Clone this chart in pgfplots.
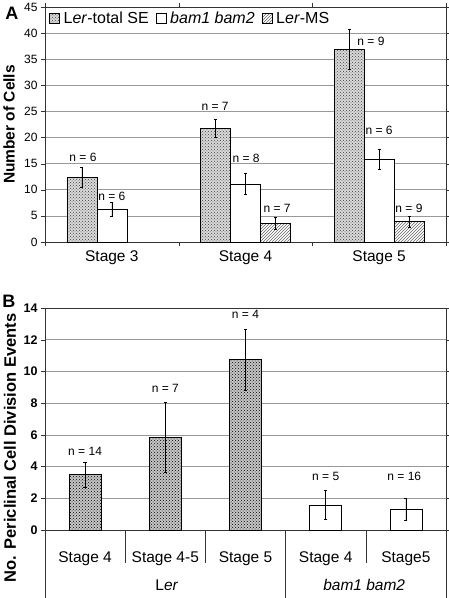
\documentclass[border=0pt]{standalone}
\usepackage{fontspec}
\setmainfont{Liberation Sans}
\usepackage{pgfplots}
\pgfplotsset{compat=1.18}
\usetikzlibrary{patterns}
\newcommand{\fs}[1]{\fontsize{#1}{#1}\selectfont}
\begin{document}
\begin{tikzpicture}
\pgfplotsset{
  common/.style={
    scale only axis,
    clip=false,
    axis line style={black!80},
    ymajorgrids,
    grid style={gray!80, line width=0.6pt},
    tick style={black!80},
    /pgf/number format/assume math mode=true,
    error bars/error bar style={black, line width=0.5pt},
    error bars/error mark options={rotate=90, mark size=1.6pt, black, line width=0.5pt},
  },
  SEstyle/.style={draw=black, line width=0.5pt, fill=gray!30, postaction={pattern=crosshatch dots, pattern color=gray!50!black}},
  BAMstyle/.style={draw=black, line width=0.5pt, fill=white},
  MSstyle/.style={draw=black, line width=0.5pt, fill=white, postaction={pattern=north east lines, pattern color=gray!80!black}},
  LERBstyle/.style={draw=black, line width=0.5pt, fill=gray!45, postaction={pattern=crosshatch dots, pattern color=black}},
}
% ---------------- Panel A ----------------
\begin{axis}[
  common,
  at={(0pt,288pt)}, anchor=south west,
  width=401pt, height=235pt,
  xmin=-0.5, xmax=2.5, ymin=0, ymax=45,
  ytick={0,5,...,45},
  yticklabel style={font=\fs{12}},
  ytick align=outside, major tick length=4pt,
  xtick={-0.5,0.5,1.5,2.5}, xticklabels={},
  xtick align=outside,
  extra x ticks={0,1,2},
  extra x tick labels={Stage 3,Stage 4,Stage 5},
  extra x tick style={major tick length=0pt, grid=none, xticklabel style={font=\fs{15.5}, yshift=-5pt}},
  ylabel={\bfseries Number of Cells},
  ylabel style={font=\fs{15.5}, at={([xshift=-36pt]rel axis cs:0,0.5)}, anchor=center},
  ybar=0pt, bar width=30pt,
  legend style={at={(rel axis cs:0,1)}, anchor=north west, draw=none, fill=none,
    font=\fs{16}, legend columns=-1, yshift=-1pt, xshift=1pt,
    /tikz/every odd column/.append style={column sep=2pt},
    /tikz/every even column/.append style={column sep=5pt}},
  legend image code/.code={\draw[#1] (0pt,-5pt) rectangle (10pt,5pt);},
]
\addplot[SEstyle, error bars/.cd, y dir=both, y explicit] coordinates {
  (0,12.4) +- (0,1.9)
  (1,21.8) +- (0,1.8)
  (2,36.9) +- (0,3.8)
};
\addplot[BAMstyle, error bars/.cd, y dir=both, y explicit] coordinates {
  (0,6.3) +- (0,1.4)
  (1,11.1) +- (0,2.0)
  (2,15.8) +- (0,1.9)
};
\addplot[MSstyle, error bars/.cd, y dir=both, y explicit] coordinates {
  (1,3.6) +- (0,1.2)
  (2,3.9) +- (0,1.0)
};
\legend{L\textit{er}-total SE, \textit{bam1 bam2}, L\textit{er}-MS}
\begin{scope}[every node/.style={font=\fs{12}}]
\node at (axis cs:-0.216,16.3) {n = 6};
\node at (axis cs:0.0,8.8) {n = 6};
\node at (axis cs:0.772,26.0) {n = 7};
\node at (axis cs:1.004,16.1) {n = 8};
\node at (axis cs:1.236,6.5) {n = 7};
\node at (axis cs:1.939,38.5) {n = 9};
\node at (axis cs:1.999,21.3) {n = 6};
\node at (axis cs:2.223,6.5) {n = 9};
\end{scope}
\node[font=\fs{18}\bfseries] at ([xshift=-33pt, yshift=-6.5pt]rel axis cs:0,1) {A};
\end{axis}
% ---------------- Panel B ----------------
\begin{axis}[
  common,
  at={(0pt,0pt)}, anchor=south west,
  width=401pt, height=222pt,
  xmin=-0.5, xmax=4.5, ymin=0, ymax=14,
  ytick={0,2,...,14},
  yticklabel style={font=\fs{12.5}\bfseries},
  ytick align=outside, major tick length=4pt,
  xtick={0,1,2,3,4},
  xticklabels={Stage 4,Stage 4-5,Stage 5,Stage 4,Stage5},
  x tick style={draw=none},
  xticklabel style={font=\fs{15.5}, yshift=-14.5pt},
  ylabel={\bfseries No. Periclinal Cell Division Events},
  ylabel style={font=\fs{16.5}, at={([xshift=-35pt]rel axis cs:0,0.37)}, anchor=center},
  ybar, bar width=32pt, bar shift=0pt,
]
\addplot[LERBstyle, error bars/.cd, y dir=both, y explicit] coordinates {
  (0,3.5) +- (0,0.78)
  (1,5.86) +- (0,2.2)
  (2,10.74) +- (0,1.92)
};
\addplot[BAMstyle, error bars/.cd, y dir=both, y explicit] coordinates {
  (3,1.58) +- (0,0.9)
  (4,1.31) +- (0,0.7)
};
\begin{scope}[every node/.style={font=\fs{12}}]
\node at (axis cs:0,4.94) {n = 14};
\node at (axis cs:1,8.96) {n = 7};
\node at (axis cs:2,13.57) {n = 4};
\node at (axis cs:3,3.36) {n = 5};
\node at (axis cs:3.98,3.36) {n = 16};
\end{scope}
\draw[black!80] (axis cs:0.5,0) -- ([yshift=-33pt]axis cs:0.5,0);
\draw[black!80] (axis cs:1.5,0) -- ([yshift=-33pt]axis cs:1.5,0);
\draw[black!80] (axis cs:3.5,0) -- ([yshift=-33pt]axis cs:3.5,0);
\draw[black!80] (axis cs:-0.5,0) -- ([yshift=-68pt]axis cs:-0.5,0);
\draw[black!80] (axis cs:2.5,0) -- ([yshift=-68pt]axis cs:2.5,0);
\draw[black!80] (axis cs:4.5,0) -- ([yshift=-68pt]axis cs:4.5,0);
\node[font=\fs{15.5}] at ([yshift=-55pt]axis cs:1.02,0) {L\textit{er}};
\node[font=\fs{15.5}] at ([yshift=-55pt]axis cs:3.48,0) {\textit{bam1 bam2}};
\node[font=\fs{18}\bfseries] at ([xshift=-36pt, yshift=6.5pt]rel axis cs:0,1) {B};
\end{axis}
\pgfresetboundingbox
\path (-45pt,-68pt) rectangle (403pt,530pt);
\end{tikzpicture}
\end{document}
